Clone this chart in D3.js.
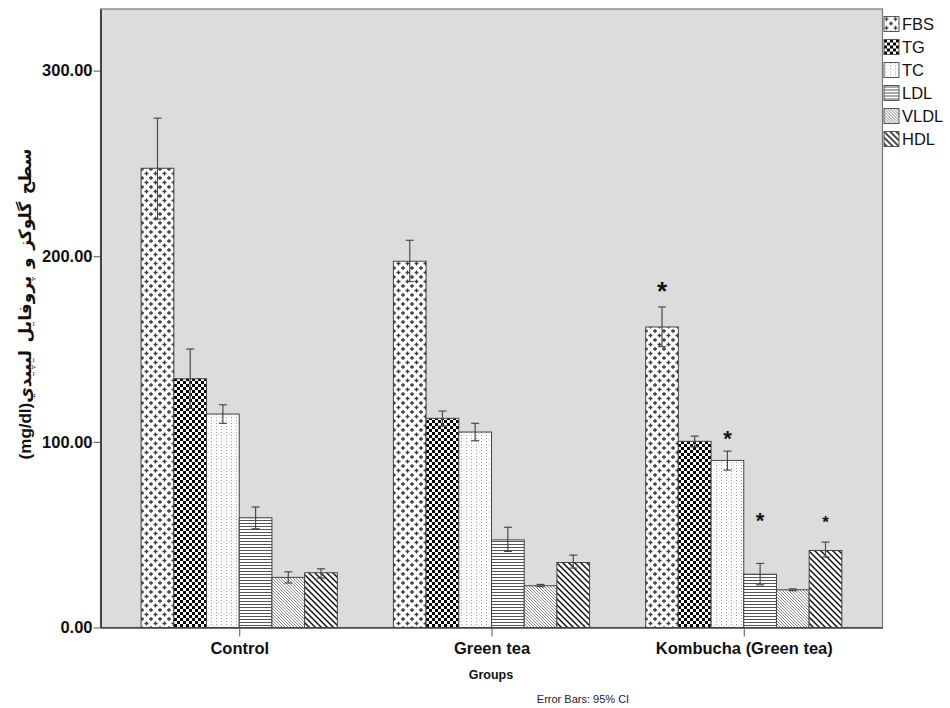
<!DOCTYPE html>
<html>
<head>
<meta charset="utf-8">
<script src="https://cdn.jsdelivr.net/npm/d3@7"></script>
<style>
  body { margin: 0; background: #fff; }
  text { font-family: "Liberation Sans", Arial, "DejaVu Sans", sans-serif; }
</style>
</head>
<body>
<script>
'use strict';

// chart data
let groups = ["Control", "Green tea", "Kombucha (Green tea)"];
let series = ["FBS", "TG", "TC", "LDL", "VLDL", "HDL"];
// mean per group, one row per series
let means = [
  [247.4, 197.3, 161.9],  // FBS
  [134.0, 112.7, 100.3],  // TG
  [115.0, 105.3, 90.0],   // TC
  [59.1, 47.2, 28.7],     // LDL
  [27.0, 22.5, 20.3],     // VLDL
  [29.5, 35.0, 41.5]      // HDL
];
// 95% CI, low and high
let ciLow = [
  [220.0, 186.4, 151.3],
  [118.0, 108.5, 97.3],
  [110.0, 100.6, 84.8],
  [53.2, 41.0, 23.0],
  [24.0, 22.0, 19.8],
  [26.6, 32.0, 38.0]
];
let ciHigh = [
  [274.4, 208.6, 172.7],
  [150.0, 116.6, 103.1],
  [120.0, 110.0, 95.0],
  [64.9, 54.0, 34.5],
  [30.0, 23.2, 20.8],
  [31.6, 39.0, 46.0]
];
// significance marks: series, group, height of the mark
let starSeries = ["FBS", "TC", "LDL", "HDL"];
let starGroup = ["Kombucha (Green tea)", "Kombucha (Green tea)", "Kombucha (Green tea)", "Kombucha (Green tea)"];
let starValue = [184.5, 104.6, 60.4, 58.8];
let yTicks = [0, 100, 200, 300];

let width = 950,
  height = 708;

let plot = { left: 100.5, top: 9, right: 882.5, bottom: 627.5 };

window.onload = function () {
  let svg = d3.select("body")
    .append("svg")
    .attr("width", width)
    .attr("height", height);

  let fills = drawPatterns(svg);

  let x0 = d3.scalePoint()
    .domain(groups)
    .range([plot.left, plot.right])
    .padding(0.55);

  let barW = 32.7;
  let x1 = d3.scaleBand()
    .domain(series)
    .range([-3 * barW, 3 * barW])
    .padding(0);

  let y = d3.scaleLinear()
    .domain([0, 333.2])
    .range([plot.bottom, plot.top]);

  // plot background
  svg.append("rect")
    .attr("x", plot.left)
    .attr("y", plot.top)
    .attr("width", plot.right - plot.left)
    .attr("height", plot.bottom - plot.top)
    .attr("fill", "#dcdcdc")
    .attr("stroke", "#777")
    .attr("stroke-width", 1.2);

  drawBars(svg, x0, x1, y, fills);
  drawStars(svg, x0, x1, y);
  drawAxes(svg, x0, y);
  drawLegend(svg, fills);
};

// bars plus error bars
function drawBars(svg, x0, x1, y, fills) {
  let rows = [];
  series.forEach((s, i) => {
    groups.forEach((g, j) => {
      rows.push({ s: s, g: g, v: means[i][j], lo: ciLow[i][j], hi: ciHigh[i][j] });
    });
  });

  svg.append("g")
    .selectAll("rect")
    .data(rows)
    .join("rect")
    .attr("x", d => x0(d.g) + x1(d.s))
    .attr("y", d => y(d.v))
    .attr("width", x1.bandwidth())
    .attr("height", d => y(0) - y(d.v))
    .attr("fill", d => fills[d.s])
    .attr("stroke", "#444")
    .attr("stroke-width", 1);

  let err = svg.append("g")
    .attr("stroke", "#4a4a4a")
    .attr("stroke-width", 1.2)
    .selectAll("g")
    .data(rows)
    .join("g")
    .attr("transform", d => "translate(" + (x0(d.g) + x1(d.s) + x1.bandwidth() / 2) + ",0)");
  err.append("line")
    .attr("y1", d => y(d.lo))
    .attr("y2", d => y(d.hi));
  err.append("line")
    .attr("x1", -4).attr("x2", 4)
    .attr("y1", d => y(d.hi)).attr("y2", d => y(d.hi));
  err.append("line")
    .attr("x1", -4).attr("x2", 4)
    .attr("y1", d => y(d.lo)).attr("y2", d => y(d.lo));
}

// asterisks above the significant bars
function drawStars(svg, x0, x1, y) {
  let sizes = { FBS: 26, TC: 22, LDL: 22, HDL: 17 };
  starSeries.forEach((s, i) => {
    let fs = sizes[s];
    svg.append("text")
      .attr("x", x0(starGroup[i]) + x1(s) + x1.bandwidth() / 2)
      .attr("y", y(starValue[i]) + fs * 0.57)
      .attr("text-anchor", "middle")
      .attr("font-size", fs)
      .attr("font-weight", "bold")
      .attr("fill", "#111")
      .text("*");
  });
}

function drawAxes(svg, x0, y) {
  let yAxis = svg.append("g")
    .attr("transform", "translate(" + plot.left + ",0)")
    .call(d3.axisLeft(y).tickValues(yTicks).tickFormat(d3.format(".2f"))
      .tickSize(7).tickSizeOuter(0).tickPadding(1));
  yAxis.select(".domain").attr("stroke", "#444").attr("stroke-width", 2);
  yAxis.selectAll(".tick line").attr("stroke", "#555");
  yAxis.selectAll(".tick text")
    .attr("font-size", 16.5)
    .attr("font-weight", "bold")
    .attr("fill", "#111")
    .style("font-family", "'Liberation Sans', Arial, sans-serif");

  let xAxis = svg.append("g")
    .attr("transform", "translate(0," + plot.bottom + ")")
    .call(d3.axisBottom(x0).tickSize(9).tickSizeOuter(0).tickPadding(6));
  xAxis.select(".domain").attr("stroke", "#444").attr("stroke-width", 1.5);
  xAxis.selectAll(".tick line").attr("stroke", "#555");
  xAxis.selectAll(".tick text")
    .attr("font-size", 16.5)
    .attr("font-weight", "bold")
    .attr("fill", "#111")
    .style("font-family", "'Liberation Sans', Arial, sans-serif");

  svg.append("text")
    .attr("x", 491)
    .attr("y", 679)
    .attr("text-anchor", "middle")
    .attr("font-size", 12.5)
    .attr("font-weight", "bold")
    .attr("fill", "#111")
    .text("Groups");

  svg.append("text")
    .attr("x", 583)
    .attr("y", 703)
    .attr("text-anchor", "middle")
    .attr("font-size", 11)
    .attr("fill", "#222")
    .text("Error Bars: 95% CI");

  svg.append("text")
    .attr("transform", "translate(31,304) rotate(-90)")
    .attr("text-anchor", "middle")
    .attr("direction", "rtl")
    .attr("font-size", 17)
    .attr("font-weight", "bold")
    .attr("word-spacing", 3)
    .attr("fill", "#111")
    .text("سطح گلوکز و پروفایل لیپیدي(mg/dl)");
}

function drawLegend(svg, fills) {
  let item = svg.append("g")
    .selectAll("g")
    .data(series)
    .join("g")
    .attr("transform", (d, i) => "translate(884," + (16.5 + i * 23) + ")");
  item.append("rect")
    .attr("width", 15)
    .attr("height", 15)
    .attr("fill", d => fills[d])
    .attr("stroke", "#555")
    .attr("stroke-width", 1);
  item.append("text")
    .attr("x", 18)
    .attr("y", 13.5)
    .attr("font-size", 16.5)
    .attr("fill", "#111")
    .text(d => d);
}

// black and white fill patterns, like the SPSS ones
function drawPatterns(svg) {
  let defs = svg.append("defs");
  let mk = (id, w, h) => {
    let p = defs.append("pattern")
      .attr("id", id)
      .attr("patternUnits", "userSpaceOnUse")
      .attr("width", w)
      .attr("height", h);
    p.append("rect").attr("width", w).attr("height", h).attr("fill", "#fff");
    return p;
  };

  // plus signs
  let fbs = mk("p-fbs", 9, 9);
  [[2.5, 2.5], [7, 7]].forEach(c => {
    fbs.append("path")
      .attr("d", "M" + (c[0] - 2) + "," + c[1] + "h4M" + c[0] + "," + (c[1] - 2) + "v4")
      .attr("stroke", "#3a3a3a")
      .attr("stroke-width", 1.3);
  });

  // checkerboard
  let tg = mk("p-tg", 6, 6);
  tg.append("rect").attr("width", 3).attr("height", 3).attr("fill", "#000");
  tg.append("rect").attr("x", 3).attr("y", 3).attr("width", 3).attr("height", 3).attr("fill", "#000");

  // sparse dotted columns
  let tc = mk("p-tc", 5, 6);
  tc.append("rect").attr("x", 1).attr("y", 0).attr("width", 1).attr("height", 1).attr("fill", "#999");
  tc.append("rect").attr("x", 1).attr("y", 3).attr("width", 1).attr("height", 1).attr("fill", "#999");
  tc.append("rect").attr("x", 3.5).attr("y", 1.5).attr("width", 1).attr("height", 1).attr("fill", "#bbb");

  // horizontal lines
  let ldl = mk("p-ldl", 4, 3);
  ldl.append("rect").attr("y", 1).attr("width", 4).attr("height", 1).attr("fill", "#555");

  // fine diagonal lines
  let vldl = mk("p-vldl", 3, 3);
  vldl.append("path")
    .attr("d", "M-1,-1L4,4M-1,2L1,4M2,-1L4,1")
    .attr("stroke", "#666")
    .attr("stroke-width", 0.8);

  // wide diagonal lines
  let hdl = mk("p-hdl", 6, 6);
  hdl.append("path")
    .attr("d", "M-1,-1L7,7M-1,5L1,7M5,-1L7,1")
    .attr("stroke", "#111")
    .attr("stroke-width", 1.5);

  let fills = {};
  series.forEach(s => { fills[s] = "url(#p-" + s.toLowerCase() + ")"; });
  return fills;
}
</script>
</body>
</html>
